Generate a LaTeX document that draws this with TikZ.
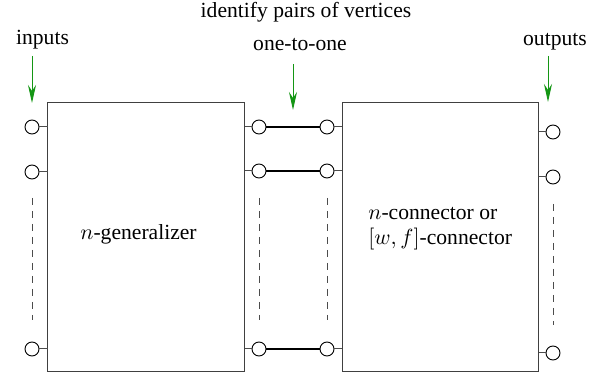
\documentclass[tikz,border=0pt]{standalone}
\usepackage{fontspec}
\setmainfont{Liberation Serif}
\usetikzlibrary{arrows.meta}
\definecolor{arrowgreen}{RGB}{20,150,20}
\begin{document}
\begin{tikzpicture}[x=0.5pt,y=-0.5pt,
  font=\fontsize{10.8}{13}\selectfont,
  port/.style={circle,draw=black,line width=0.45pt,minimum size=7pt,inner sep=0pt},
  block/.style={draw=black!75,line width=0.5pt,minimum width=98pt,minimum height=134.5pt,inner sep=0pt},
  stub/.style={draw=black!70,line width=0.5pt},
  link/.style={draw=black,line width=0.9pt},
  dots/.style={draw=black!70,line width=0.5pt,dash pattern=on 3.5pt off 3pt},
  pointer/.style={draw=arrowgreen,line width=0.5pt,-{Stealth[length=9pt,width=4pt,inset=3pt]}},
  lbl/.style={inner sep=0pt,anchor=base}]
\useasboundingbox (0,0) rectangle (607,379);

% the two blocks
\node[block] (gen) at (146,237.5) {};
\node[block] (con) at (440.5,237.5) {};

% ports of the generalizer
\node[port] (i1) at (32,127) {};
\node[port] (i2) at (32,172) {};
\node[port] (i3) at (32,349) {};
\node[port] (g1) at (259,127) {};
\node[port] (g2) at (259,171) {};
\node[port] (g3) at (259,349) {};

% ports of the connector
\node[port] (c1) at (327,127) {};
\node[port] (c2) at (327,171) {};
\node[port] (c3) at (327,349) {};
\node[port] (o1) at (553,132) {};
\node[port] (o2) at (553,177) {};
\node[port] (o3) at (553,353) {};

% short leads from ports to block edges
\foreach \p in {i1,i2,i3} \draw[stub] (\p.east) -- (gen.west |- \p);
\foreach \p in {g1,g2,g3} \draw[stub] (gen.east |- \p) -- (\p.west);
\foreach \p in {c1,c2,c3} \draw[stub] (\p.east) -- (con.west |- \p);
\foreach \p in {o1,o2,o3} \draw[stub] (con.east |- \p) -- (\p.west);

% identified vertex pairs
\draw[link] (g1) -- (c1);
\draw[link] (g2) -- (c2);
\draw[link] (g3) -- (c3);

% elided ports
\coordinate (di1) at (32,198);  \coordinate (di2) at (32,320);
\coordinate (dg1) at (259,198); \coordinate (dg2) at (259,320);
\coordinate (dc1) at (327,198); \coordinate (dc2) at (327,320);
\coordinate (do1) at (553,204); \coordinate (do2) at (553,325);
\draw[dots] (di1) -- (di2);
\draw[dots] (dg1) -- (dg2);
\draw[dots] (dc1) -- (dc2);
\draw[dots] (do1) -- (do2);

% labels
\node[lbl] (tin) at (42.5,45) {inputs};
\node[lbl] (tout) at (555,46) {outputs};
\node[lbl] (tid) at (306,18) {identify pairs of vertices};
\node[lbl] (toto) at (300,51) {one-to-one};
\node[lbl,anchor=base west] (tgen) at (80,240) {$n$-generalizer};
\node[lbl,anchor=base west] (tcon1) at (368,220) {$n$-connector or};
\node[lbl,anchor=base west] (tcon2) at (368,245) {$[w,f]$-connector};

% pointers
\coordinate (ain) at (32,56);   \coordinate (bin) at (32,103);
\coordinate (aoto) at (293,64); \coordinate (boto) at (293,110);
\coordinate (aout) at (548,56); \coordinate (bout) at (548,102);
\draw[pointer] (ain) -- (bin);
\draw[pointer] (aoto) -- (boto);
\draw[pointer] (aout) -- (bout);
\end{tikzpicture}
\end{document}
